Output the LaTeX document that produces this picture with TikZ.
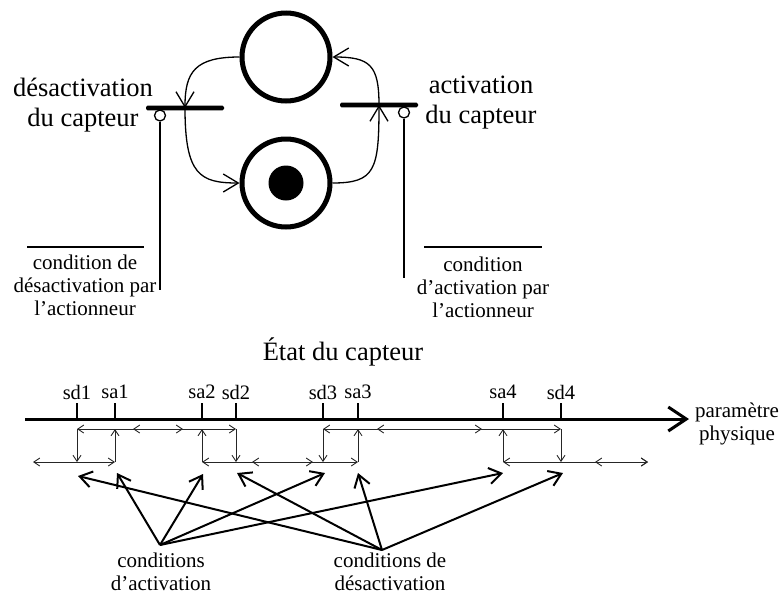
\documentclass[tikz,border=0pt]{standalone}
\usepackage{fontspec}
\setmainfont{Liberation Serif}
\usetikzlibrary{arrows.meta}
\begin{document}
\begin{tikzpicture}[x=1pt,y=-1pt,
  place/.style={circle,draw,line width=5pt,minimum size=88pt,inner sep=0pt},
  token/.style={circle,fill,minimum size=35pt,inner sep=0pt},
  trans/.style={fill,minimum width=78pt,minimum height=4.8pt,inner sep=0pt,rounded corners=1.5pt},
  testc/.style={circle,draw,line width=1.3pt,minimum size=11pt,inner sep=0pt,fill=white},
  testl/.style={line width=2pt},
  arc/.style={line width=1.3pt,-{Straight Barb[length=15pt,width=18pt]}},
  bigtxt/.style={font=\fontsize{26.5}{30}\selectfont,align=center,inner sep=0pt},
  smtxt/.style={font=\fontsize{21}{23}\selectfont,align=center,inner sep=0pt},
  ticklab/.style={font=\fontsize{20.5}{22}\selectfont,inner sep=0pt},
  axis/.style={line width=3pt,-{Straight Barb[length=18pt,width=24pt]}},
  tickm/.style={line width=2.8pt},
  hl/.style={line width=0.9pt,black!85},
  ha/.style={hl,-{Straight Barb[length=6pt,width=8pt]}},
  hab/.style={hl,{Straight Barb[length=6pt,width=8pt]}-{Straight Barb[length=6pt,width=8pt]}},
  cond/.style={line width=2pt,-{Straight Barb[length=12pt,width=16pt]}}
]
\useasboundingbox (0,0) rectangle (780,595);

% Petri net
\node[place] (p1) at (286,57) {};
\node[place] (p2) at (286,183) {};
\node[token] (tok) at (286,183) {};
\node[trans] (t1) at (185,108) {};
\node[trans] (t2) at (379,105) {};
\coordinate (t1a) at (185,108);
\coordinate (t2a) at (379,105);
\draw[arc] (p1.west) .. controls (195,57) and (185,72) .. (t1a);
\draw[arc] (t1a) .. controls (185,175) and (200,183) .. (p2.west);
\draw[arc] (p2.east) .. controls (375,183) and (379,170) .. (t2a);
\draw[arc] (t2a) .. controls (379,65) and (370,57) .. (p1.east);

% test arcs
\node[testc] (c1) at (160,115.5) {};
\node[testc] (c2) at (404,112.5) {};
\coordinate (e1) at (160,290);
\coordinate (e2) at (404,278);
\draw[testl] (c1) -- (e1);
\draw[testl] (c2) -- (e2);

\node[bigtxt] (ld) at (83,105) {désactivation\\du capteur};
\node[bigtxt] (la) at (481,103) {activation\\du capteur};

\draw[line width=1.2pt] (27,247) -- (144,247);
\draw[line width=1.2pt] (424,247) -- (542,247);
\node[smtxt] (cd1) at (85,285) {condition de\\désactivation par\\l’actionneur};
\node[smtxt] (ca1) at (483,287) {condition\\d’activation par\\l’actionneur};

% state diagram
\node[bigtxt] (etat) at (343,352) {État du capteur};
\coordinate (ax0) at (25,419);
\coordinate (ax1) at (689,419);
\draw[axis] (ax0) -- (ax1);
\node[smtxt] (pp) at (737,424) {paramètre\\physique};

\foreach \n/\x in {sd1/77,sa1/115,sa2/202,sd2/236,sd3/323,sa3/358,sa4/503,sd4/561}{
  \draw[tickm] (\x,419) -- (\x,403);
  \node[ticklab] (\n) at (\x,392) {\n};
}

% hysteresis
\draw[hab] (33,462) -- (115,462);
\draw[hab] (77,429) -- (236,429);
\draw[hab] (133,429) -- (183,429);
\draw[hab] (202,462) -- (358,462);
\draw[hab] (252,462) -- (313,462);
\draw[hab] (323,429) -- (561,429);
\draw[hab] (377,429) -- (482,429);
\draw[hab] (503,462) -- (648,462);
\draw[hab] (595,462) -- (648,462);
\foreach \x in {77,236,323,561}{\draw[ha] (\x,429) -- (\x,462);}
\foreach \x in {115,202,358,503}{\draw[ha] (\x,462) -- (\x,429);}

% conditions
\coordinate (ca) at (160,545);
\coordinate (cd) at (382,550);
\coordinate (ta1) at (117,473);
\coordinate (ta2) at (203,474);
\coordinate (ta3) at (325,473);
\coordinate (ta4) at (503,473);
\coordinate (td1) at (78,476);
\coordinate (td2) at (237,473);
\coordinate (td3) at (358,473);
\coordinate (td4) at (563,473);
\foreach \t in {ta1,ta2,ta3,ta4}{\draw[cond] (ca) -- (\t);}
\foreach \t in {td1,td2,td3,td4}{\draw[cond] (cd) -- (\t);}
\node[smtxt] (lca) at (161,572) {conditions\\d’activation};
\node[smtxt] (lcd) at (390,572) {conditions de\\désactivation};
\end{tikzpicture}
\end{document}
